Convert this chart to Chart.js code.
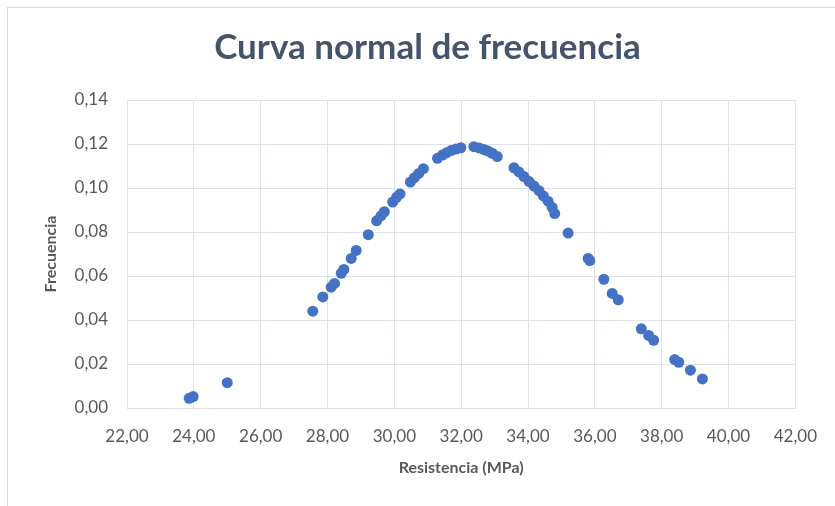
<!DOCTYPE html>
<html>
<head>
<meta charset="utf-8">
<script src="https://cdn.jsdelivr.net/npm/chart.js@4.4.1/dist/chart.umd.min.js"></script>
<style>
  html, body { margin: 0; padding: 0; background: #fff; }
  #wrap { position: relative; width: 835px; height: 506px; overflow: hidden; }
  #frame { position: absolute; left: 7px; top: 7px; width: 900px; height: 600px;
           border-left: 1px solid #D9D9D9; border-top: 1px solid #D9D9D9; }
  canvas { position: absolute; left: 0; top: 0; }
</style>
</head>
<body>
<div id="wrap">
  <div id="frame"></div>
  <canvas id="chart" width="835" height="506"></canvas>
</div>
<script>
// Resistencia (MPa) values
const resistencia = [
    23.86, 23.98, 25.00, 27.56, 27.86, 28.11, 28.21, 28.41, 28.49, 28.71,
    28.86, 29.22, 29.47, 29.60, 29.70, 29.95, 30.07, 30.17, 30.48, 30.60,
    30.73, 30.87, 31.29, 31.44, 31.56, 31.70, 31.84, 31.99, 32.38, 32.54,
    32.68, 32.80, 32.93, 33.08, 33.58, 33.73, 33.88, 34.03, 34.18, 34.33,
    34.46, 34.60, 34.72, 34.80, 35.20, 35.80, 35.85, 36.27, 36.52, 36.70,
    37.39, 37.61, 37.76, 38.39, 38.51, 38.86, 39.22
];

// Frecuencia for each point
const frecuencia = [
    0.0044, 0.0052, 0.0115, 0.0440, 0.0505, 0.0549, 0.0566, 0.0612, 0.0630, 0.0680,
    0.0716, 0.0788, 0.0851, 0.0873, 0.0892, 0.0936, 0.0958, 0.0973, 0.1027, 0.1047,
    0.1066, 0.1088, 0.1135, 0.1150, 0.1160, 0.1170, 0.1177, 0.1183, 0.1188, 0.1182,
    0.1175, 0.1168, 0.1158, 0.1143, 0.1092, 0.1073, 0.1052, 0.1030, 0.1009, 0.0988,
    0.0964, 0.0940, 0.0912, 0.0884, 0.0795, 0.0680, 0.0670, 0.0585, 0.0521, 0.0492,
    0.0360, 0.0330, 0.0308, 0.0220, 0.0208, 0.0172, 0.0132
];

// Axis tick ranges
const xTicks = [22, 24, 26, 28, 30, 32, 34, 36, 38, 40, 42];
const yTicks = [0, 0.02, 0.04, 0.06, 0.08, 0.10, 0.12, 0.14];

const points = resistencia.map((x, i) => ({ x: x, y: frecuencia[i] }));

const gridColor = '#DEE2E9';
const labelColor = '#595959';

function formatComma(value) {
    return value.toFixed(2).replace('.', ',');
}

new Chart(document.getElementById('chart'), {
    type: 'scatter',
    data: {
        datasets: [{
            label: 'Frecuencia',
            data: points,
            backgroundColor: '#4472C4',
            borderColor: '#4472C4',
            borderWidth: 0,
            pointRadius: 5.5,
            pointHoverRadius: 5.5
        }]
    },
    options: {
        responsive: false,
        maintainAspectRatio: false,
        devicePixelRatio: 1,
        animation: false,
        layout: {
            // left padding keeps the chart title centred on the page
            padding: { top: 10, left: 58, right: 38, bottom: 25 }
        },
        plugins: {
            legend: { display: false },
            tooltip: { enabled: false },
            title: {
                display: true,
                text: 'Curva normal de frecuencia',
                color: '#44546A',
                font: { family: 'Lato', size: 35, weight: 'bold' },
                padding: { top: 17, bottom: 31 }
            }
        },
        scales: {
            x: {
                type: 'linear',
                min: xTicks[0],
                max: xTicks[xTicks.length - 1],
                afterBuildTicks: (scale) => { scale.ticks = xTicks.map(v => ({ value: v })); },
                afterFit: (scale) => { scale.height = 73; },
                grid: { color: gridColor, drawTicks: false },
                border: { color: gridColor },
                ticks: {
                    padding: 18,
                    color: labelColor,
                    font: { family: 'Lato', size: 17 },
                    maxRotation: 0,
                    callback: (v) => formatComma(v)
                },
                title: {
                    display: true,
                    text: 'Resistencia (MPa)',
                    color: labelColor,
                    font: { family: 'Lato', size: 16, weight: 'bold' }
                }
            },
            y: {
                min: yTicks[0],
                max: yTicks[yTicks.length - 1],
                afterBuildTicks: (scale) => { scale.ticks = yTicks.map(v => ({ value: v })); },
                afterFit: (scale) => { scale.width = 69; },
                grid: { color: gridColor, drawTicks: false },
                border: { color: gridColor },
                ticks: {
                    padding: 19,
                    color: labelColor,
                    font: { family: 'Lato', size: 17 },
                    callback: (v) => formatComma(v)
                },
                title: {
                    display: true,
                    text: 'Frecuencia',
                    color: labelColor,
                    font: { family: 'Lato', size: 16, weight: 'bold' },
                    padding: { top: -17, bottom: 0 }
                }
            }
        }
    }
});
</script>
</body>
</html>
